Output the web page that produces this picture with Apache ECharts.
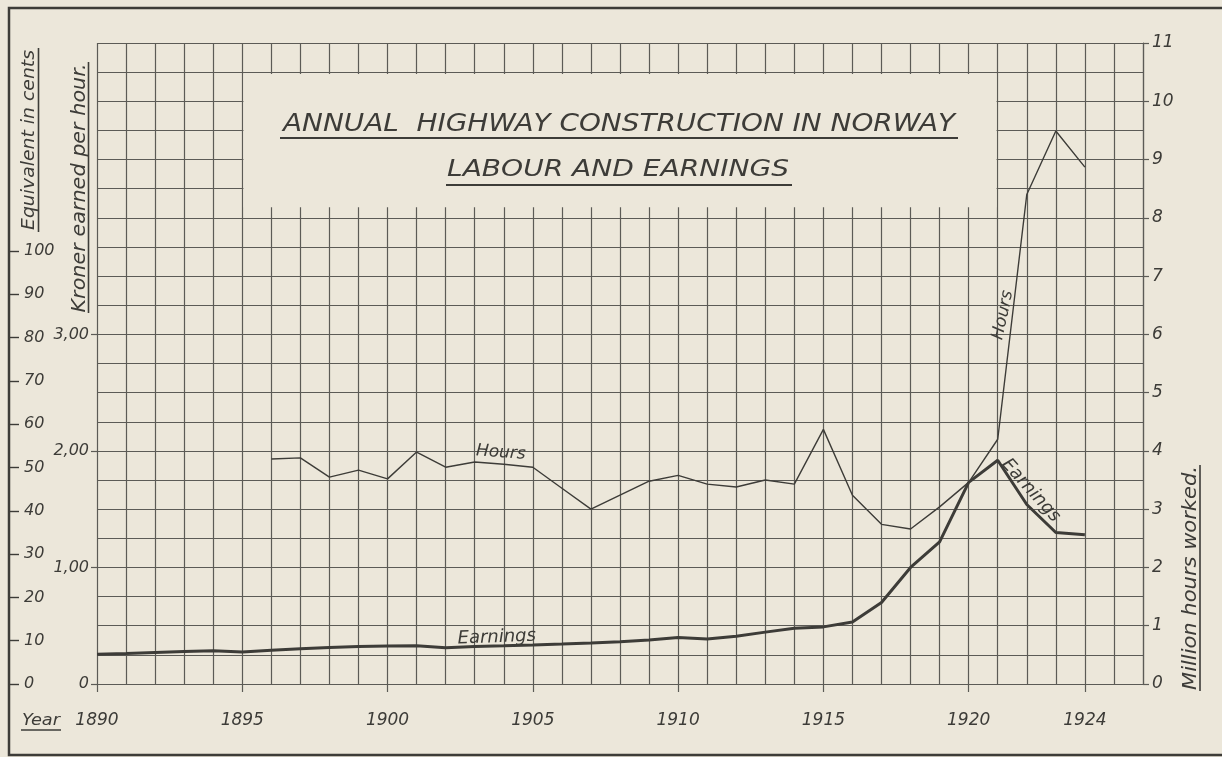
<!DOCTYPE html>
<html><head><meta charset="utf-8">
<script src="https://cdn.jsdelivr.net/npm/echarts@6/dist/echarts.min.js"></script>
<style>html,body{margin:0;padding:0;background:#ece7da;} #c{width:1222px;height:757px;}</style>
</head><body><div id="c"></div>
<script>
// ---- data ----
const years = [1890,1891,1892,1893,1894,1895,1896,1897,1898,1899,
               1900,1901,1902,1903,1904,1905,1906,1907,1908,1909,
               1910,1911,1912,1913,1914,1915,1916,1917,1918,1919,
               1920,1921,1922,1923,1924];
// million hours worked
const hours = [null,null,null,null,null,null,3.86,3.88,3.55,3.67,
               3.52,3.98,3.72,3.81,3.77,3.72,3.36,3.00,3.24,3.48,
               3.58,3.43,3.38,3.50,3.43,4.37,3.24,2.74,2.66,3.04,
               3.46,4.20,8.40,9.49,8.87];
// kroner earned per hour
const earnings = [0.255,0.262,0.27,0.278,0.285,0.275,0.29,0.303,0.313,0.322,
                  0.326,0.328,0.312,0.322,0.328,0.335,0.343,0.352,0.362,0.377,
                  0.40,0.386,0.41,0.445,0.478,0.49,0.532,0.70,1.00,1.22,
                  1.73,1.92,1.54,1.30,1.28];
const xTickYears = [1890,1895,1900,1905,1910,1915,1920,1924];
const kronerTicks = [0,1,2,3];
const centsTicks = [0,10,20,30,40,50,60,70,80,90,100];

// ---- styling ----
const BG = '#ece7da', INK = '#3d3c38', GRID = '#5c5b56';
const FONT = '"DejaVu Sans", sans-serif';
const lab = (o) => Object.assign({fontFamily: FONT, fontStyle: 'italic', fontSize: 17, color: INK}, o || {});

const mctx = document.createElement('canvas').getContext('2d');
function fontStr(size) { return 'italic normal ' + size + 'px "DejaVu Sans", sans-serif'; }
function fit(text, size, target) {
  mctx.font = fontStr(size);
  return target / mctx.measureText(text).width;
}
function txt(text, x, y, size, target, rot) {
  return {type: 'text', x: x, y: y, rotation: rot || 0, scaleX: target ? fit(text, size, target) : 1, z: 100,
    style: {text: text, font: fontStr(size), fontSize: size, fontFamily: 'DejaVu Sans', fontStyle: 'italic', fill: INK,
            align: 'center', verticalAlign: 'middle', textAlign: 'center', textVerticalAlign: 'middle'}};
}
function ln(x1, y1, x2, y2, w) {
  return {type: 'line', z: 100, shape: {x1: x1, y1: y1, x2: x2, y2: y2}, style: {stroke: INK, lineWidth: w || 1.6}};
}

const hoursData = years.map((y, i) => [y, hours[i]]).filter(d => d[1] !== null);
const earnData = years.map((y, i) => [y, earnings[i]]);

const chart = echarts.init(document.getElementById('c'));
chart.setOption({
  backgroundColor: BG,
  animation: false,
  grid: {left: 97, right: 79, top: 43, bottom: 73},
  xAxis: [
    {type: 'value', min: 1890, max: 1926, interval: 1,
     axisLine: {show: false}, axisTick: {show: false}, axisLabel: {show: false},
     splitLine: {show: true, lineStyle: {color: GRID, width: 1.2}}},
    {type: 'value', min: 1890, max: 1926, position: 'bottom',
     axisLine: {show: false}, splitLine: {show: false},
     axisTick: {show: true, customValues: xTickYears, length: 8, lineStyle: {color: GRID, width: 1.2}},
     axisLabel: lab({customValues: xTickYears, margin: 28, formatter: v => String(v)})}
  ],
  yAxis: [
    {type: 'value', position: 'right', min: 0, max: 11, interval: 1,
     axisLine: {show: true, lineStyle: {color: GRID, width: 1.2}},
     axisTick: {show: true, length: 6, lineStyle: {color: GRID, width: 1.2}},
     axisLabel: lab({margin: 9}), splitLine: {show: false}},
    {type: 'value', position: 'left', min: 0, max: 5.5, interval: 1,
     axisLine: {show: false}, splitLine: {show: false},
     axisTick: {show: true, customValues: kronerTicks, length: 6, lineStyle: {color: GRID, width: 1.2}},
     axisLabel: lab({customValues: kronerTicks, margin: 8, fontSize: 16,
       formatter: v => v > 3 ? '' : (v === 0 ? '0' : v.toFixed(2).replace('.', ','))})},
    {type: 'value', position: 'left', offset: 88, min: 0, max: 148, interval: 10,
     axisLine: {show: false}, splitLine: {show: false},
     axisTick: {show: true, inside: true, customValues: centsTicks, length: 10, lineStyle: {color: INK, width: 1.4}},
     axisLabel: lab({inside: true, customValues: centsTicks, margin: 15, fontSize: 16,
       formatter: v => v > 100 ? '' : String(v)})},
    {type: 'value', min: 0, max: 11, interval: 0.5,
     axisLine: {show: false}, axisTick: {show: false}, axisLabel: {show: false},
     splitLine: {show: true, lineStyle: {color: GRID, width: 1.2}}}
  ],
  series: [
    {name: 'Hours', type: 'line', xAxisIndex: 0, yAxisIndex: 0, data: hoursData,
     symbol: 'none', lineStyle: {color: INK, width: 1.4}, z: 3,
     markArea: {silent: true, itemStyle: {color: BG, opacity: 1},
       data: [[{coord: [1895.04, 8.18]}, {coord: [1920.96, 10.47]}]]},
     markPoint: {symbol: 'circle', symbolSize: 0, silent: true,
       label: lab({show: true, position: 'inside', formatter: '{b}', fontSize: 17}),
       data: [{name: 'Hours', coord: [1903.9, 3.97], label: {rotate: -4}},
              {name: 'Hours', coord: [1921.18, 6.33], label: {rotate: 78}}]}},
    {name: 'Earnings', type: 'line', xAxisIndex: 0, yAxisIndex: 1, data: earnData,
     symbol: 'none', lineStyle: {color: INK, width: 3}, z: 4,
     markPoint: {symbol: 'circle', symbolSize: 0, silent: true,
       label: lab({show: true, position: 'inside', formatter: '{b}', fontSize: 18}),
       data: [{name: 'Earnings', coord: [1903.76, 0.40], label: {rotate: 2}},
              {name: 'Earnings', coord: [1922.14, 1.66], label: {rotate: -48}}]}}
  ],
  graphic: [
    {type: 'rect', z: 100, shape: {x: 9, y: 8, width: 1240, height: 747},
     style: {fill: 'none', stroke: INK, lineWidth: 2.5}},
    txt('ANNUAL  HIGHWAY CONSTRUCTION IN NORWAY', 619, 124, 25, 672),
    ln(280, 138, 958, 138, 2),
    txt('LABOUR AND EARNINGS', 618, 170, 23, 342),
    ln(446, 185, 792, 185, 2),
    txt('Equivalent in cents', 29, 140, 18, 180, Math.PI / 2),
    ln(38.5, 48, 38.5, 232, 1.6),
    txt('Kroner earned per hour.', 80, 188, 19, 249, Math.PI / 2),
    ln(88.5, 62, 88.5, 313, 1.6),
    txt('Million hours worked.', 1191, 578, 19, 224, Math.PI / 2),
    ln(1200, 465, 1200, 691, 1.6),
    txt('Year', 41, 721, 16, 38),
    ln(21, 730, 61, 730, 1.6)
  ]
});
</script></body></html>
